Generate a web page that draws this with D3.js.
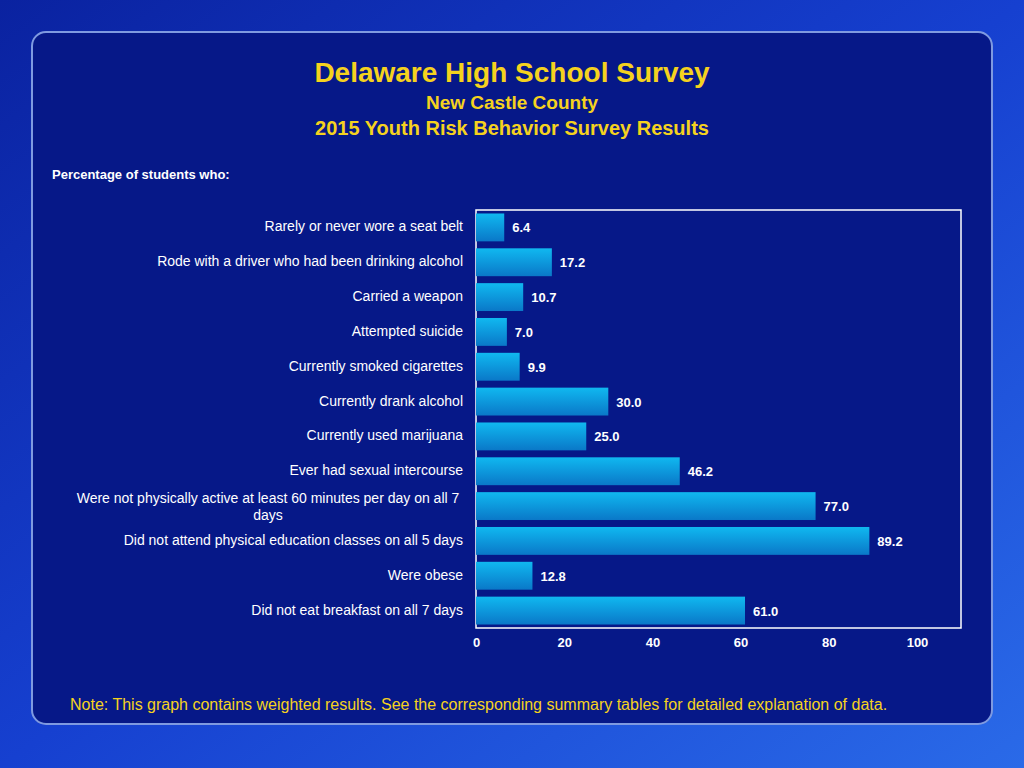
<!DOCTYPE html>
<html><head><meta charset="utf-8">
<script src="https://cdn.jsdelivr.net/npm/d3@7.9.0/dist/d3.min.js"></script>
<style>body{margin:0;background:#1030c0}svg{display:block;font-family:"Liberation Sans",Arial,sans-serif}</style>
</head><body><svg width="1024" height="768"></svg>
<script>
const categories = ["Rarely or never wore a seat belt","Rode with a driver who had been drinking alcohol","Carried a weapon","Attempted suicide","Currently smoked cigarettes","Currently drank alcohol","Currently used marijuana","Ever had sexual intercourse","Were not physically active at least 60 minutes per day on all 7 days","Did not attend physical education classes on all 5 days","Were obese","Did not eat breakfast on all 7 days"];
const values = [6.4,17.2,10.7,7.0,9.9,30.0,25.0,46.2,77.0,89.2,12.8,61.0];
const ticks = [0,20,40,60,80,100];

const svg = d3.select("svg");
const defs = svg.append("defs");
const bg = defs.append("linearGradient").attr("id","bg").attr("x1",0).attr("y1",0).attr("x2",1).attr("y2",1);
bg.append("stop").attr("offset","0%").attr("stop-color","#0a22a0");
bg.append("stop").attr("offset","50%").attr("stop-color","#1640d0");
bg.append("stop").attr("offset","100%").attr("stop-color","#2a6ae8");
const bar = defs.append("linearGradient").attr("id","bar").attr("x1",0).attr("y1",0).attr("x2",0).attr("y2",1);
bar.append("stop").attr("offset","0%").attr("stop-color","#10b8f0");
bar.append("stop").attr("offset","100%").attr("stop-color","#0a78c8");

svg.append("rect").attr("width",1024).attr("height",768).attr("fill","url(#bg)");
svg.append("rect").attr("x",32).attr("y",32).attr("width",960).attr("height",692).attr("rx",14)
  .attr("fill","#061888").attr("stroke","#7f9ae0").attr("stroke-width",2);

svg.append("text").attr("x",512).attr("y",82).attr("text-anchor","middle").attr("fill","#f5d21e")
  .attr("font-size",28).attr("font-weight","bold").text("Delaware High School Survey");
svg.append("text").attr("x",512).attr("y",109).attr("text-anchor","middle").attr("fill","#f5d21e")
  .attr("font-size",19).attr("font-weight","bold").text("New Castle County");
svg.append("text").attr("x",512).attr("y",135).attr("text-anchor","middle").attr("fill","#f5d21e")
  .attr("font-size",20).attr("font-weight","bold").text("2015 Youth Risk Behavior Survey Results");
svg.append("text").attr("x",52).attr("y",179).attr("fill","#fff").attr("font-size",13)
  .attr("font-weight","bold").text("Percentage of students who:");

const x = d3.scaleLinear().domain([0,100]).range([476,917]);
const y = d3.scaleBand().domain(categories).range([210,628]).paddingInner(0.2).paddingOuter(0.1);

svg.append("rect").attr("x",476).attr("y",210).attr("width",485).attr("height",418)
  .attr("fill","none").attr("stroke","#fff").attr("stroke-width",1.5);

svg.selectAll(".bar").data(values).join("rect")
  .attr("x",x(0)).attr("y",(d,i)=>y(categories[i])).attr("width",d=>x(d)-x(0))
  .attr("height",y.bandwidth()).attr("fill","url(#bar)");

svg.selectAll(".val").data(values).join("text")
  .attr("x",d=>x(d)+8).attr("y",(d,i)=>y(categories[i])+y.bandwidth()/2+5)
  .attr("fill","#fff").attr("font-size",13).attr("font-weight","bold").text(d=>d.toFixed(1));

categories.forEach((c,i)=>{
  const cy = y(c)+y.bandwidth()/2;
  if (c.length > 60) {
    const t = svg.append("text").attr("text-anchor","middle").attr("fill","#fff").attr("font-size",14);
    t.append("tspan").attr("x",268).attr("y",cy-3).text("Were not physically active at least 60 minutes per day on all 7");
    t.append("tspan").attr("x",268).attr("y",cy+14).text("days");
  } else {
    svg.append("text").attr("x",463).attr("y",cy+4).attr("text-anchor","end").attr("fill","#fff")
      .attr("font-size",14).text(c);
  }
});

const ax = svg.append("g").attr("transform","translate(0,628)")
  .call(d3.axisBottom(x).tickValues(ticks).tickSize(0).tickPadding(10));
ax.select(".domain").remove();
ax.selectAll("text").attr("fill","#fff").attr("font-size",13).attr("font-weight","bold")
  .attr("font-family","Liberation Sans, Arial, sans-serif");

svg.append("text").attr("x",70).attr("y",710).attr("fill","#f5d21e").attr("font-size",16)
  .text("Note: This graph contains weighted results. See the corresponding summary tables for detailed explanation of data.");
</script></body></html>
